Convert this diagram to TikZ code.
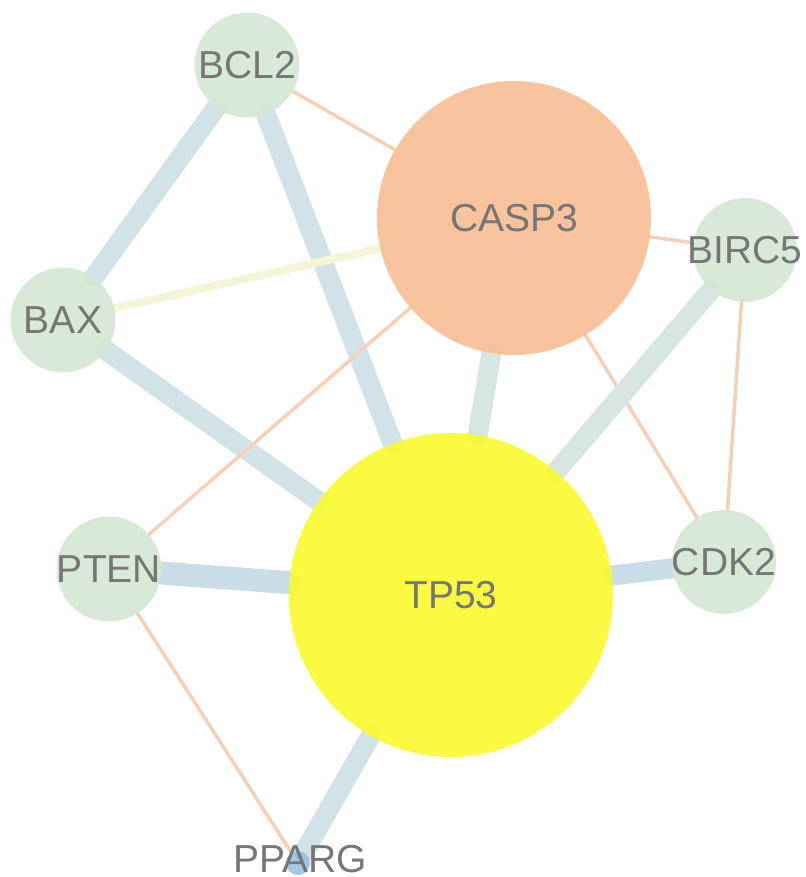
\documentclass[tikz,border=0pt]{standalone}
\usepackage{fontspec}
\setmainfont{Liberation Sans}
\definecolor{nodegreen}{RGB}{213,231,211}
\definecolor{caspor}{RGB}{248,189,146}
\definecolor{tpyel}{RGB}{250,250,45}
\definecolor{txtgray}{RGB}{118,118,118}
\definecolor{eblue}{RGB}{201,221,233}
\definecolor{egray}{RGB}{210,227,232}
\definecolor{egreen}{RGB}{216,230,227}
\definecolor{eor}{RGB}{246,207,183}
\definecolor{eyel}{RGB}{245,245,215}
\definecolor{pblue}{RGB}{140,188,224}
\pgfdeclarelayer{bg}
\pgfsetlayers{bg,main}
\begin{document}
\begin{tikzpicture}[x=1pt,y=-1pt,
  gnode/.style={circle,inner sep=0pt,outer sep=0pt,fill opacity=0.9,text opacity=1},
  lbl/.style={font=\fontsize{39}{42}\selectfont,text=txtgray,inner sep=0pt,fill opacity=1,text opacity=1},
  thick edge/.style={line width=20pt,line cap=round},
  thin edge/.style={line width=3.5pt,line cap=round,draw=eor}]
\useasboundingbox (0,0) rectangle (805,877);
\node[gnode,fill=nodegreen,minimum size=105pt,label={[lbl]center:BCL2}] (BCL2) at (247,65) {};
\node[gnode,fill=caspor,minimum size=274pt,label={[lbl]center:CASP3}] (CASP3) at (514,218) {};
\node[gnode,fill=nodegreen,minimum size=104pt,label={[lbl]center:BIRC5}] (BIRC5) at (745,250) {};
\node[gnode,fill=nodegreen,minimum size=105pt,label={[lbl]center:BAX}] (BAX) at (63,320) {};
\node[gnode,fill=nodegreen,minimum size=105pt,label={[lbl]center:PTEN}] (PTEN) at (109,569) {};
\node[gnode,fill=nodegreen,minimum size=104pt,label={[lbl]center:CDK2}] (CDK2) at (724,562) {};
\node[gnode,fill=tpyel,minimum size=324pt,label={[lbl]center:TP53}] (TP53) at (451,595) {};
\node[gnode,fill=pblue,fill opacity=0.8,minimum size=24pt,label={[lbl,yshift=4pt,xshift=2pt]center:PPARG}] (PPARG) at (298,863) {};
\begin{pgfonlayer}{bg}
\draw[thick edge,draw=egray] (BCL2) -- (BAX);
\draw[thick edge,draw=egray] (BCL2) -- (TP53);
\draw[thin edge] (BCL2) -- (CASP3);
\draw[line width=8pt,line cap=round,draw=eyel] (BAX) -- (CASP3);
\draw[thick edge,draw=egray] (BAX) -- (TP53);
\draw[thin edge] (CASP3) -- (BIRC5);
\draw[thick edge,draw=egreen] (CASP3) -- (TP53);
\draw[thin edge] (CASP3) -- (PTEN);
\draw[thin edge] (CASP3) -- (CDK2);
\draw[thick edge,draw=egreen] (BIRC5) -- (TP53);
\draw[thin edge] (BIRC5) -- (CDK2);
\draw[line width=23pt,line cap=round,draw=eblue] (PTEN) -- (TP53);
\draw[thick edge,draw=eblue] (CDK2) -- (TP53);
\draw[thin edge] (PTEN) -- (PPARG);
\draw[thick edge,draw=egray] (TP53) -- (PPARG);
\end{pgfonlayer}
\end{tikzpicture}
\end{document}
